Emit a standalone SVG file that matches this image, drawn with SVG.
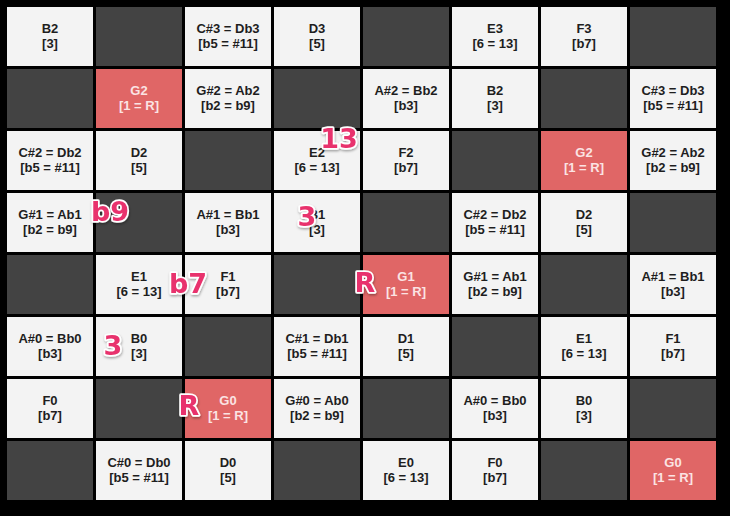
<svg xmlns="http://www.w3.org/2000/svg" width="730" height="516" viewBox="0 0 730 516">
<defs>
<style>
.l{fill:#f3f3f3}
.d{fill:#434343}
.r{fill:#e06666}
text{font-family:"Liberation Sans",Arial,sans-serif;font-weight:bold;font-size:13px;text-anchor:middle}
.t{fill:#1e1e1e}
.w{fill:#fbe3e3}
.p{font-family:"DejaVu Sans","Liberation Sans",sans-serif;font-size:27px;fill:#e8336d;stroke:#ffffff;stroke-width:3.5px;paint-order:stroke;stroke-linejoin:round;filter:url(#sh)}
</style>
<filter id="sh" x="-30%" y="-30%" width="160%" height="160%">
<feDropShadow dx="0.5" dy="1.5" stdDeviation="1" flood-color="#000" flood-opacity="0.35"/>
</filter>
</defs>
<rect x="0" y="0" width="730" height="516" fill="#000"/>
<g id="cells">
<!-- row 0 -->
<g id="r0c0"><rect class="l" x="7" y="7" width="86" height="59"/><text class="t" x="50" y="33">B2</text><text class="t" x="50" y="48">[3]</text></g>
<g id="r0c1"><rect class="d" x="96" y="7" width="86" height="59"/></g>
<g id="r0c2"><rect class="l" x="185" y="7" width="86" height="59"/><text class="t" x="228" y="33">C#3 = Db3</text><text class="t" x="228" y="48">[b5 = #11]</text></g>
<g id="r0c3"><rect class="l" x="274" y="7" width="86" height="59"/><text class="t" x="317" y="33">D3</text><text class="t" x="317" y="48">[5]</text></g>
<g id="r0c4"><rect class="d" x="363" y="7" width="86" height="59"/></g>
<g id="r0c5"><rect class="l" x="452" y="7" width="86" height="59"/><text class="t" x="495" y="33">E3</text><text class="t" x="495" y="48">[6 = 13]</text></g>
<g id="r0c6"><rect class="l" x="541" y="7" width="86" height="59"/><text class="t" x="584" y="33">F3</text><text class="t" x="584" y="48">[b7]</text></g>
<g id="r0c7"><rect class="d" x="630" y="7" width="86" height="59"/></g>
<!-- row 1 -->
<g id="r1c0"><rect class="d" x="7" y="69" width="86" height="59"/></g>
<g id="r1c1"><rect class="r" x="96" y="69" width="86" height="59"/><text class="w" x="139" y="95">G2</text><text class="w" x="139" y="110">[1 = R]</text></g>
<g id="r1c2"><rect class="l" x="185" y="69" width="86" height="59"/><text class="t" x="228" y="95">G#2 = Ab2</text><text class="t" x="228" y="110">[b2 = b9]</text></g>
<g id="r1c3"><rect class="d" x="274" y="69" width="86" height="59"/></g>
<g id="r1c4"><rect class="l" x="363" y="69" width="86" height="59"/><text class="t" x="406" y="95">A#2 = Bb2</text><text class="t" x="406" y="110">[b3]</text></g>
<g id="r1c5"><rect class="l" x="452" y="69" width="86" height="59"/><text class="t" x="495" y="95">B2</text><text class="t" x="495" y="110">[3]</text></g>
<g id="r1c6"><rect class="d" x="541" y="69" width="86" height="59"/></g>
<g id="r1c7"><rect class="l" x="630" y="69" width="86" height="59"/><text class="t" x="673" y="95">C#3 = Db3</text><text class="t" x="673" y="110">[b5 = #11]</text></g>
<!-- row 2 -->
<g id="r2c0"><rect class="l" x="7" y="131" width="86" height="59"/><text class="t" x="50" y="157">C#2 = Db2</text><text class="t" x="50" y="172">[b5 = #11]</text></g>
<g id="r2c1"><rect class="l" x="96" y="131" width="86" height="59"/><text class="t" x="139" y="157">D2</text><text class="t" x="139" y="172">[5]</text></g>
<g id="r2c2"><rect class="d" x="185" y="131" width="86" height="59"/></g>
<g id="r2c3"><rect class="l" x="274" y="131" width="86" height="59"/><text class="t" x="317" y="157">E2</text><text class="t" x="317" y="172">[6 = 13]</text></g>
<g id="r2c4"><rect class="l" x="363" y="131" width="86" height="59"/><text class="t" x="406" y="157">F2</text><text class="t" x="406" y="172">[b7]</text></g>
<g id="r2c5"><rect class="d" x="452" y="131" width="86" height="59"/></g>
<g id="r2c6"><rect class="r" x="541" y="131" width="86" height="59"/><text class="w" x="584" y="157">G2</text><text class="w" x="584" y="172">[1 = R]</text></g>
<g id="r2c7"><rect class="l" x="630" y="131" width="86" height="59"/><text class="t" x="673" y="157">G#2 = Ab2</text><text class="t" x="673" y="172">[b2 = b9]</text></g>
<!-- row 3 -->
<g id="r3c0"><rect class="l" x="7" y="193" width="86" height="59"/><text class="t" x="50" y="219">G#1 = Ab1</text><text class="t" x="50" y="234">[b2 = b9]</text></g>
<g id="r3c1"><rect class="d" x="96" y="193" width="86" height="59"/></g>
<g id="r3c2"><rect class="l" x="185" y="193" width="86" height="59"/><text class="t" x="228" y="219">A#1 = Bb1</text><text class="t" x="228" y="234">[b3]</text></g>
<g id="r3c3"><rect class="l" x="274" y="193" width="86" height="59"/><text class="t" x="317" y="219">B1</text><text class="t" x="317" y="234">[3]</text></g>
<g id="r3c4"><rect class="d" x="363" y="193" width="86" height="59"/></g>
<g id="r3c5"><rect class="l" x="452" y="193" width="86" height="59"/><text class="t" x="495" y="219">C#2 = Db2</text><text class="t" x="495" y="234">[b5 = #11]</text></g>
<g id="r3c6"><rect class="l" x="541" y="193" width="86" height="59"/><text class="t" x="584" y="219">D2</text><text class="t" x="584" y="234">[5]</text></g>
<g id="r3c7"><rect class="d" x="630" y="193" width="86" height="59"/></g>
<!-- row 4 -->
<g id="r4c0"><rect class="d" x="7" y="255" width="86" height="59"/></g>
<g id="r4c1"><rect class="l" x="96" y="255" width="86" height="59"/><text class="t" x="139" y="281">E1</text><text class="t" x="139" y="296">[6 = 13]</text></g>
<g id="r4c2"><rect class="l" x="185" y="255" width="86" height="59"/><text class="t" x="228" y="281">F1</text><text class="t" x="228" y="296">[b7]</text></g>
<g id="r4c3"><rect class="d" x="274" y="255" width="86" height="59"/></g>
<g id="r4c4"><rect class="r" x="363" y="255" width="86" height="59"/><text class="w" x="406" y="281">G1</text><text class="w" x="406" y="296">[1 = R]</text></g>
<g id="r4c5"><rect class="l" x="452" y="255" width="86" height="59"/><text class="t" x="495" y="281">G#1 = Ab1</text><text class="t" x="495" y="296">[b2 = b9]</text></g>
<g id="r4c6"><rect class="d" x="541" y="255" width="86" height="59"/></g>
<g id="r4c7"><rect class="l" x="630" y="255" width="86" height="59"/><text class="t" x="673" y="281">A#1 = Bb1</text><text class="t" x="673" y="296">[b3]</text></g>
<!-- row 5 -->
<g id="r5c0"><rect class="l" x="7" y="317" width="86" height="59"/><text class="t" x="50" y="343">A#0 = Bb0</text><text class="t" x="50" y="358">[b3]</text></g>
<g id="r5c1"><rect class="l" x="96" y="317" width="86" height="59"/><text class="t" x="139" y="343">B0</text><text class="t" x="139" y="358">[3]</text></g>
<g id="r5c2"><rect class="d" x="185" y="317" width="86" height="59"/></g>
<g id="r5c3"><rect class="l" x="274" y="317" width="86" height="59"/><text class="t" x="317" y="343">C#1 = Db1</text><text class="t" x="317" y="358">[b5 = #11]</text></g>
<g id="r5c4"><rect class="l" x="363" y="317" width="86" height="59"/><text class="t" x="406" y="343">D1</text><text class="t" x="406" y="358">[5]</text></g>
<g id="r5c5"><rect class="d" x="452" y="317" width="86" height="59"/></g>
<g id="r5c6"><rect class="l" x="541" y="317" width="86" height="59"/><text class="t" x="584" y="343">E1</text><text class="t" x="584" y="358">[6 = 13]</text></g>
<g id="r5c7"><rect class="l" x="630" y="317" width="86" height="59"/><text class="t" x="673" y="343">F1</text><text class="t" x="673" y="358">[b7]</text></g>
<!-- row 6 -->
<g id="r6c0"><rect class="l" x="7" y="379" width="86" height="59"/><text class="t" x="50" y="405">F0</text><text class="t" x="50" y="420">[b7]</text></g>
<g id="r6c1"><rect class="d" x="96" y="379" width="86" height="59"/></g>
<g id="r6c2"><rect class="r" x="185" y="379" width="86" height="59"/><text class="w" x="228" y="405">G0</text><text class="w" x="228" y="420">[1 = R]</text></g>
<g id="r6c3"><rect class="l" x="274" y="379" width="86" height="59"/><text class="t" x="317" y="405">G#0 = Ab0</text><text class="t" x="317" y="420">[b2 = b9]</text></g>
<g id="r6c4"><rect class="d" x="363" y="379" width="86" height="59"/></g>
<g id="r6c5"><rect class="l" x="452" y="379" width="86" height="59"/><text class="t" x="495" y="405">A#0 = Bb0</text><text class="t" x="495" y="420">[b3]</text></g>
<g id="r6c6"><rect class="l" x="541" y="379" width="86" height="59"/><text class="t" x="584" y="405">B0</text><text class="t" x="584" y="420">[3]</text></g>
<g id="r6c7"><rect class="d" x="630" y="379" width="86" height="59"/></g>
<!-- row 7 -->
<g id="r7c0"><rect class="d" x="7" y="441" width="86" height="59"/></g>
<g id="r7c1"><rect class="l" x="96" y="441" width="86" height="59"/><text class="t" x="139" y="467">C#0 = Db0</text><text class="t" x="139" y="482">[b5 = #11]</text></g>
<g id="r7c2"><rect class="l" x="185" y="441" width="86" height="59"/><text class="t" x="228" y="467">D0</text><text class="t" x="228" y="482">[5]</text></g>
<g id="r7c3"><rect class="d" x="274" y="441" width="86" height="59"/></g>
<g id="r7c4"><rect class="l" x="363" y="441" width="86" height="59"/><text class="t" x="406" y="467">E0</text><text class="t" x="406" y="482">[6 = 13]</text></g>
<g id="r7c5"><rect class="l" x="452" y="441" width="86" height="59"/><text class="t" x="495" y="467">F0</text><text class="t" x="495" y="482">[b7]</text></g>
<g id="r7c6"><rect class="d" x="541" y="441" width="86" height="59"/></g>
<g id="r7c7"><rect class="r" x="630" y="441" width="86" height="59"/><text class="w" x="673" y="467">G0</text><text class="w" x="673" y="482">[1 = R]</text></g>
</g>
<g id="labels">
<text class="p" x="339" y="148">13</text>
<text class="p" x="307" y="226">3</text>
<text class="p" x="365" y="292">R</text>
<text class="p" x="110" y="221">b9</text>
<text class="p" x="188" y="293">b7</text>
<text class="p" x="113" y="355">3</text>
<text class="p" x="189" y="415">R</text>
</g>
</svg>
